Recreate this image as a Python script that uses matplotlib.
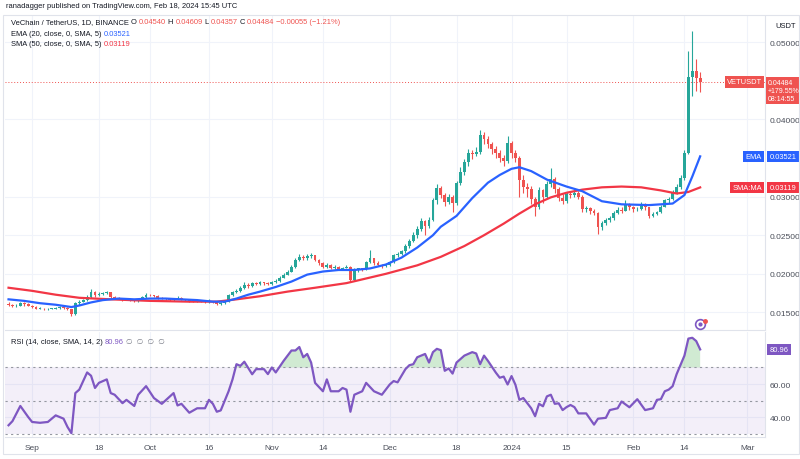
import matplotlib.pyplot as plt
import matplotlib.transforms as mtransforms
import numpy as np

plt.rcParams["font.family"] = ["Liberation Sans", "DejaVu Sans"]

# daily candles, day 0 = 1 Sep 2023, first candle = 26 Aug 2023
first_day = -6
first_open = 0.0161
closes = [
    0.0160, 0.0158, 0.0159, 0.0162, 0.0161, 0.0159, 0.0157, 0.0155, 0.0155, 0.0154,
    0.0155, 0.0155, 0.0156, 0.0157, 0.0156, 0.0154, 0.0148, 0.0162, 0.0164, 0.0166,
    0.0170, 0.0177, 0.0172, 0.0174, 0.0175, 0.0176, 0.0170, 0.0169, 0.0168, 0.0167,
    0.0168, 0.0166, 0.0165, 0.0167, 0.0170, 0.0173, 0.0172, 0.0171, 0.0169, 0.0168,
    0.0167, 0.0166, 0.0168, 0.0169, 0.0167, 0.0166, 0.0165, 0.0164, 0.0165, 0.0164,
    0.0163, 0.0164, 0.0163, 0.0161, 0.0162, 0.0164, 0.0172, 0.0176, 0.0178, 0.0182,
    0.0186, 0.0184, 0.0188, 0.0187, 0.0189, 0.0188, 0.0187, 0.0189, 0.0191, 0.0195,
    0.0199, 0.0203, 0.0209, 0.0218, 0.0222, 0.0220, 0.0223, 0.0224, 0.0218, 0.0214,
    0.0209, 0.0212, 0.0207, 0.0209, 0.0206, 0.0208, 0.0209, 0.0192, 0.0205, 0.0207,
    0.0206, 0.0215, 0.0220, 0.0214, 0.0212, 0.0210, 0.0212, 0.0215, 0.0224, 0.0226,
    0.0229, 0.0236, 0.0243, 0.0250, 0.0258, 0.0268, 0.0262, 0.0270, 0.0295, 0.0311,
    0.0302, 0.0293, 0.0300, 0.0292, 0.0318, 0.0332, 0.0345, 0.0357, 0.0355, 0.0358,
    0.0380, 0.0375, 0.0368, 0.0362, 0.0356, 0.0350, 0.0346, 0.0370, 0.0356, 0.0350,
    0.0322, 0.0312, 0.0310, 0.0297, 0.0287, 0.0308, 0.0300, 0.0316, 0.0323, 0.0310,
    0.0298, 0.0294, 0.0303, 0.0302, 0.0305, 0.0300, 0.0284, 0.0285, 0.0281, 0.0279,
    0.0261, 0.0266, 0.0270, 0.0272, 0.0279, 0.0283, 0.0282, 0.0290, 0.0286, 0.0284,
    0.0284, 0.0290, 0.0286, 0.0275, 0.0278, 0.0280, 0.0287, 0.0295, 0.0297, 0.0305,
    0.0312, 0.0324, 0.0357, 0.0455, 0.0463, 0.0454, 0.04484,
]
highs = [
    0.0163, 0.0161, 0.0161, 0.0164, 0.0163, 0.0162, 0.0160, 0.0158, 0.0157, 0.0156,
    0.0156, 0.0156, 0.0157, 0.0158, 0.0158, 0.0157, 0.0155, 0.0163, 0.0166, 0.0168,
    0.0172, 0.0181, 0.0178, 0.0176, 0.0177, 0.0178, 0.0177, 0.0171, 0.0170, 0.0169,
    0.0169, 0.0169, 0.0167, 0.0168, 0.0171, 0.0175, 0.0174, 0.0173, 0.0172, 0.0170,
    0.0169, 0.0168, 0.0169, 0.0171, 0.0170, 0.0168, 0.0167, 0.0166, 0.0166, 0.0166,
    0.0165, 0.0167, 0.0165, 0.0164, 0.0163, 0.0165, 0.0174, 0.0178, 0.0180, 0.0184,
    0.0190, 0.0188, 0.0190, 0.0190, 0.0191, 0.0190, 0.0189, 0.0191, 0.0193, 0.0197,
    0.0201, 0.0205, 0.0212, 0.0221, 0.0226, 0.0224, 0.0226, 0.0227, 0.0225, 0.0219,
    0.0215, 0.0214, 0.0213, 0.0211, 0.0210, 0.0209, 0.0211, 0.0210, 0.0207, 0.0208,
    0.0208, 0.0217, 0.0231, 0.0221, 0.0216, 0.0213, 0.0213, 0.0217, 0.0226, 0.0228,
    0.0231, 0.0238, 0.0245, 0.0254, 0.0262, 0.0272, 0.0270, 0.0273, 0.0298, 0.0316,
    0.0314, 0.0305, 0.0303, 0.0302, 0.0320, 0.0338, 0.0349, 0.0362, 0.0360, 0.0364,
    0.0386, 0.0384, 0.0378, 0.0371, 0.0366, 0.0360, 0.0354, 0.0378, 0.0372, 0.0360,
    0.0352, 0.0328, 0.0318, 0.0314, 0.0300, 0.0312, 0.0310, 0.0320, 0.0337, 0.0326,
    0.0312, 0.0303, 0.0306, 0.0307, 0.0308, 0.0307, 0.0302, 0.0288, 0.0287, 0.0284,
    0.0280, 0.0268, 0.0272, 0.0275, 0.0281, 0.0286, 0.0286, 0.0295, 0.0292, 0.0288,
    0.0287, 0.0293, 0.0292, 0.0287, 0.0280, 0.0282, 0.0289, 0.0297, 0.0300, 0.0308,
    0.0316, 0.0328, 0.0360, 0.0488, 0.0514, 0.0478, 0.04609,
]
lows = [
    0.0158, 0.0157, 0.0157, 0.0158, 0.0159, 0.0158, 0.0156, 0.0154, 0.0154, 0.0153,
    0.0153, 0.0154, 0.0154, 0.0155, 0.0155, 0.0153, 0.0146, 0.0147, 0.0160, 0.0163,
    0.0165, 0.0169, 0.0170, 0.0171, 0.0173, 0.0174, 0.0169, 0.0167, 0.0167, 0.0165,
    0.0166, 0.0165, 0.0164, 0.0164, 0.0166, 0.0169, 0.0171, 0.0170, 0.0168, 0.0167,
    0.0166, 0.0165, 0.0165, 0.0167, 0.0166, 0.0165, 0.0164, 0.0163, 0.0163, 0.0163,
    0.0162, 0.0162, 0.0162, 0.0160, 0.0160, 0.0161, 0.0163, 0.0171, 0.0175, 0.0177,
    0.0181, 0.0182, 0.0183, 0.0185, 0.0186, 0.0186, 0.0185, 0.0186, 0.0188, 0.0190,
    0.0194, 0.0198, 0.0202, 0.0208, 0.0216, 0.0218, 0.0218, 0.0221, 0.0216, 0.0212,
    0.0207, 0.0208, 0.0206, 0.0206, 0.0205, 0.0205, 0.0207, 0.0190, 0.0191, 0.0203,
    0.0204, 0.0205, 0.0214, 0.0212, 0.0210, 0.0208, 0.0209, 0.0210, 0.0214, 0.0222,
    0.0224, 0.0227, 0.0234, 0.0241, 0.0247, 0.0255, 0.0250, 0.0259, 0.0268, 0.0290,
    0.0298, 0.0288, 0.0290, 0.0280, 0.0289, 0.0315, 0.0328, 0.0340, 0.0349, 0.0352,
    0.0355, 0.0368, 0.0363, 0.0355, 0.0350, 0.0345, 0.0340, 0.0344, 0.0350, 0.0345,
    0.0300, 0.0305, 0.0300, 0.0290, 0.0275, 0.0284, 0.0292, 0.0298, 0.0313, 0.0305,
    0.0294, 0.0290, 0.0292, 0.0298, 0.0299, 0.0297, 0.0280, 0.0280, 0.0278, 0.0276,
    0.0251, 0.0257, 0.0263, 0.0267, 0.0270, 0.0277, 0.0279, 0.0281, 0.0283, 0.0280,
    0.0281, 0.0283, 0.0283, 0.0272, 0.0273, 0.0276, 0.0279, 0.0286, 0.0292, 0.0295,
    0.0303, 0.0310, 0.0322, 0.0355, 0.0430, 0.0437, 0.04357,
]

# moving averages (day, value)
ema_days = [-6, -2, 2, 6, 10, 12, 15, 18, 22, 26, 30, 34, 38, 42, 46, 49, 52, 55, 58, 62,
            66, 70, 74, 78, 82, 86, 90, 94, 98, 102, 104, 108, 112, 116, 119, 122, 124,
            127, 131, 136, 140, 145, 150, 157, 163, 166, 168, 170]
ema_vals = [0.0167, 0.0165, 0.0162, 0.0160, 0.0157, 0.0159, 0.0163, 0.0166, 0.0168, 0.0167,
            0.0168, 0.0168, 0.0167, 0.0166, 0.0164, 0.0164, 0.0168, 0.0173, 0.0177, 0.0183,
            0.0190, 0.0199, 0.0203, 0.0205, 0.0205, 0.0207, 0.0212, 0.0221, 0.0234, 0.0250,
            0.0261, 0.0275, 0.0298, 0.0318, 0.0328, 0.0336, 0.0338, 0.0333, 0.0322, 0.0313,
            0.0307, 0.0294, 0.0290, 0.0289, 0.0291, 0.0302, 0.0326, 0.03521]
sma_days = [-6, 0, 6, 12, 20, 30, 40, 47, 52, 58, 65, 72, 80, 90, 98, 104, 110, 115, 120,
            124, 128, 132, 136, 140, 145, 150, 155, 160, 164, 167, 170]
sma_vals = [0.0182, 0.0178, 0.0173, 0.0169, 0.0167, 0.0165, 0.0164, 0.0164, 0.0167, 0.0171,
            0.0177, 0.0182, 0.0188, 0.0200, 0.0211, 0.0222, 0.0236, 0.0250, 0.0265, 0.0278,
            0.0290, 0.0299, 0.0305, 0.0309, 0.0312, 0.0313, 0.0312, 0.0308, 0.0304, 0.0306,
            0.03119]

# RSI (14)
rsi_days = [-6, -5, -3, -1, 0, 2, 4, 5, 6, 8, 9, 10, 11, 12, 14, 15, 16, 17, 19, 20, 21, 23,
            24, 26, 27, 29, 31, 33, 36, 37, 38, 40, 42, 44, 45, 46, 47, 48, 50, 51, 52, 53,
            54, 56, 57, 59, 60, 61, 62, 64, 66, 67, 68, 69, 70, 71, 72, 74, 75, 76, 78, 79,
            80, 81, 82, 84, 85, 87, 89, 91, 92, 93, 95, 96, 97, 98, 100, 101, 102, 103, 104,
            105, 106, 107, 108, 110, 112, 113, 114, 115, 116, 118, 119, 120, 121, 122, 123,
            124, 125, 127, 128, 129, 130, 131, 132, 133, 134, 135, 136, 137, 138, 139, 141,
            143, 144, 146, 147, 149, 150, 152, 154, 156, 158, 159, 160, 161, 162, 163, 164,
            166, 167, 168, 169, 170]
rsi_vals = [35, 37.5, 46.7, 40, 37, 36.5, 37, 39, 41, 39, 34, 30.2, 54.5, 56.6, 67, 65, 57.6,
            60.7, 62.8, 54.5, 53.5, 48.4, 50.4, 46.7, 53.5, 58.7, 51.5, 48, 54.5, 47, 48, 42.6,
            45.3, 45.3, 50.4, 48, 43.2, 44, 55.6, 62.8, 72, 71, 73.5, 65.9, 69, 69, 66, 70, 67,
            74, 80.3, 80.3, 82.4, 76.2, 78.2, 73, 60.7, 55.6, 62.8, 55.6, 55.6, 57.6, 56.6,
            43.2, 53.5, 55.6, 60.7, 55.6, 53.5, 59.7, 61.8, 61, 69, 71.4, 72, 76.2, 78.2, 73,
            79.3, 81.3, 80.5, 68, 69.4, 66.3, 73, 77.2, 79.3, 78.5, 72, 77.2, 74, 66.9, 63.8,
            64.5, 59.7, 64.8, 59.5, 50.4, 51.5, 45.3, 40.5, 48, 46.5, 52.5, 53.5, 48, 48.3,
            44.2, 46, 47.3, 46, 42.2, 42.2, 35.4, 39, 39.5, 44.2, 45.3, 49.4, 45.9, 50.8,
            44.2, 45.3, 50.4, 50.8, 55.6, 56.6, 58.7, 65.9, 77.2, 87.5, 88, 86, 80.96]

tick_days = [0, 17, 30, 45, 61, 74, 91, 108, 122, 136, 153, 166, 182]
tick_labels = ["Sep", "18", "Oct", "16", "Nov", "14", "Dec", "18", "2024", "15", "Feb", "14", "Mar"]
price_ticks = [0.015, 0.020, 0.025, 0.030, 0.040, 0.050]

up_col = "#26a69a"
down_col = "#ef5350"
ema_col = "#2962ff"
sma_col = "#f23645"
rsi_col = "#7e57c2"
text_col = "#131722"
grid_col = "#f0f3fa"

W, H = 800, 460
fig = plt.figure(figsize=(8, 4.6), dpi=100)
fig.patch.set_facecolor("white")


def box(x0, y0, x1, y1):
    return [x0 / W, 1 - y1 / H, (x1 - x0) / W, (y1 - y0) / H]


def px(x, y):
    return x / W, 1 - y / H


ax = fig.add_axes(box(5, 17, 765, 331))
rax = fig.add_axes(box(5, 333, 765, 438), sharex=ax)

days = np.arange(first_day, first_day + len(closes))
c = np.array(closes)
o = np.concatenate([[first_open], c[:-1]])
hi = np.array(highs)
lo = np.array(lows)
cols = np.where(c >= o, up_col, down_col)

ax.vlines(days, lo, hi, colors=cols, linewidth=0.8, zorder=3)
body = np.maximum(np.abs(c - o), 0.00004)
ax.bar(days, body, bottom=np.minimum(o, c), width=0.72, color=cols, zorder=4, linewidth=0)

ax.plot(sma_days, sma_vals, color=sma_col, linewidth=1.6, zorder=5)
ax.plot(ema_days, ema_vals, color=ema_col, linewidth=1.6, zorder=5)
ax.axhline(closes[-1], color=down_col, linestyle=(0, (1, 2)), linewidth=0.7, zorder=2)

ax.set_xlim(-6.9, 186.5)
ax.set_ylim(0.01273, 0.05338)

# alert icon under the last candles
ax.plot([170], [0.01351], marker="o", ms=7, mfc="white", mec=rsi_col, mew=1.2,
        clip_on=False, zorder=6)
ax.plot([170], [0.01351], marker="o", ms=2, color=rsi_col, clip_on=False, zorder=7)
ax.plot([171.2], [0.01385], marker="o", ms=2.5, color=down_col, clip_on=False, zorder=7)

# rsi pane
rax.axhspan(30, 70, color=rsi_col, alpha=0.09, linewidth=0)
for lvl in (70, 50, 30):
    rax.axhline(lvl, color="#9598a1", linestyle=(0, (2, 3)), linewidth=0.8)
rd = np.array(rsi_days)
rv = np.array(rsi_vals, dtype=float)
rax.fill_between(rd, rv, 70, where=rv > 70, interpolate=True, color="#66bb6a", alpha=0.3, linewidth=0)
rax.plot(rd, rv, color=rsi_col, linewidth=1.6)
rax.set_ylim(27.9, 91.5)

for a in (ax, rax):
    for s in a.spines.values():
        s.set_visible(False)
    a.spines["right"].set_visible(True)
    a.spines["right"].set_color("#e0e3eb")
    a.set_xticks(tick_days)
    a.grid(True, color=grid_col, linewidth=0.8)
    a.set_axisbelow(True)
    a.tick_params(length=0, labelsize=6, labelcolor="#4a4e59")
    a.yaxis.tick_right()

ax.set_yticks(price_ticks)
ax.set_yticklabels([f"{v:.5f}" for v in price_ticks])
ax.tick_params(axis="x", labelbottom=False)
ax.spines["bottom"].set_visible(True)
ax.spines["bottom"].set_color("#e0e3eb")
rax.set_yticks([60, 40])
rax.set_yticklabels(["60.00", "40.00"])
rax.set_xticklabels(tick_labels)
rax.tick_params(axis="x", pad=5)
rax.spines["bottom"].set_visible(True)
rax.spines["bottom"].set_color("#e0e3eb")

# outer frame
fig.add_artist(plt.Rectangle(px(3, 455), 796 / W, 439 / H, fill=False,
                             edgecolor="#e0e3eb", linewidth=0.8))

# header and legends, pieces placed one after another
fs = 5.4
renderer = fig.canvas.get_renderer()


def line(x, y, pieces, gap=2):
    for s, col in pieces:
        t = fig.text(*px(x, y), s, fontsize=fs, color=col, va="center")
        x += t.get_window_extent(renderer).width + gap


line(6, 7, [("ranadagger published on TradingView.com, Feb 18, 2024 15:45 UTC", text_col)])
line(11, 23, [("VeChain / TetherUS, 1D, BINANCE", text_col), ("O", text_col), ("0.04540", down_col),
              ("H", text_col), ("0.04609", down_col), ("L", text_col), ("0.04357", down_col),
              ("C", text_col), ("0.04484", down_col), ("\u22120.00055 (\u22121.21%)", down_col)])
line(11, 34, [("EMA (20, close, 0, SMA, 5)", text_col), ("0.03521", ema_col)])
line(11, 45, [("SMA (50, close, 0, SMA, 5)", text_col), ("0.03119", sma_col)])
line(11, 343, [("RSI (14, close, SMA, 14, 2)", text_col), ("80.96", rsi_col),
               ("\u2205  \u2205  \u2205  \u2205", "#787b86")])
fig.text(*px(775, 26), "USDT", fontsize=fs, color=text_col, va="center")

# right scale labels
tr = mtransforms.blended_transform_factory(ax.transAxes, ax.transData)
rtr = mtransforms.blended_transform_factory(rax.transAxes, rax.transData)


def tag(axis_tr, x, y, s, col, ha="left", size=5.4, pad=0.3):
    ax.text(x, y, s, transform=axis_tr, fontsize=size, color="white", va="center", ha=ha,
            clip_on=False, zorder=10, linespacing=1.2,
            bbox=dict(boxstyle=f"square,pad={pad}", facecolor=col, edgecolor="none"))


tag(tr, 0.996, closes[-1], "VETUSDT", down_col, ha="right")
tag(tr, 1.004, closes[-1] - 0.0011, "0.04484\n+179.55%\n08:14:55", down_col, size=5, pad=0.25)
tag(tr, 0.996, ema_vals[-1], "EMA", ema_col, ha="right")
tag(tr, 1.006, ema_vals[-1], "0.03521", ema_col)
tag(tr, 0.996, sma_vals[-1], "SMA:MA", sma_col, ha="right")
tag(tr, 1.006, sma_vals[-1], "0.03119", sma_col)
tag(rtr, 0.996, rsi_vals[-1], "RSI", rsi_col, ha="right")
tag(rtr, 1.006, rsi_vals[-1], "80.96", rsi_col)

fig.savefig("out.png", dpi=100)
